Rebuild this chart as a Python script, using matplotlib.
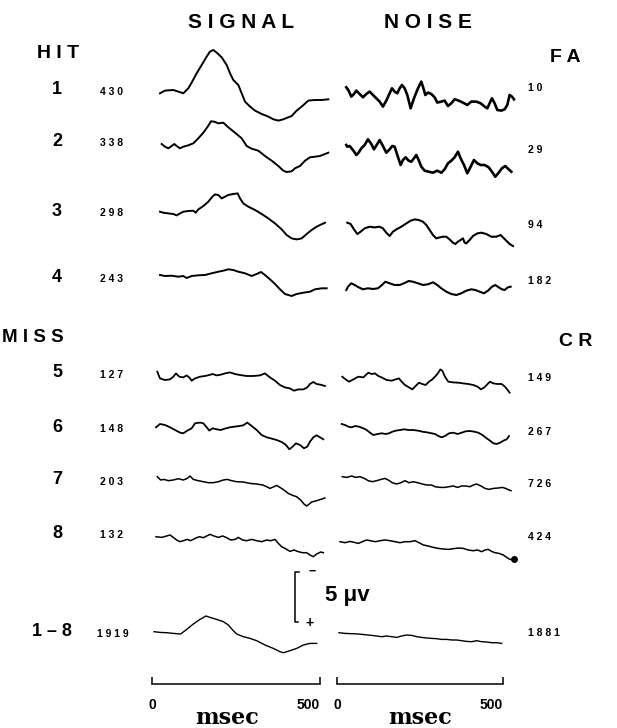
import matplotlib
matplotlib.use("Agg")
import matplotlib.pyplot as plt

# ---------------------------------------------------------------------------
# Averaged waveforms, time in ms after stimulus, amplitude in microvolts
# (negative plotted upward). One pair of arrays per trace.
# ---------------------------------------------------------------------------
# SIGNAL column (HIT 1-4, MISS 5-8, grand average 1-8)
sig_t1 = [0, 15, 40, 55, 70, 85, 95, 110, 125, 140, 150, 160, 170, 185, 200, 210, 220, 235, 245, 255,
          270, 285, 305, 325, 340, 355, 370, 385, 395, 410, 425, 445, 465, 485, 505]
sig_v1 = [0, -0.27, -0.33, -0.17, 0, -0.5, -1.07, -2.0, -2.83, -3.67, -4.17, -4.33, -4.07, -3.6, -2.83,
          -2.0, -1.33, -0.83, 0, 0.83, 1.33, 1.73, 2.07, 2.33, 2.6, 2.73, 2.6, 2.4, 2.27, 1.73, 1.33,
          0.73, 0.67, 0.67, 0.6]
sig_t2 = [5, 15, 25, 35, 43, 50, 60, 70, 85, 100, 115, 130, 143, 153, 163, 175, 190, 205, 225, 245,
          260, 275, 295, 315, 335, 355, 370, 380, 395, 405, 420, 435, 450, 465, 480, 495, 505]
sig_v2 = [0, 0.27, 0.43, 0.2, 0, 0.2, 0.43, 0.27, 0.13, -0.07, -0.57, -1.13, -1.73, -2.27, -2.23,
          -2.07, -2.13, -1.67, -1.13, -0.57, 0.2, 0.47, 0.67, 1.2, 1.67, 2.2, 2.67, 2.8, 2.73, 2.43,
          2.2, 1.67, 1.33, 1.27, 1.2, 1.0, 0.87]
sig_t3 = [0, 10, 25, 40, 50, 60, 70, 85, 100, 107, 115, 130, 145, 157, 165, 175, 185, 195, 205, 220,
          233, 240, 250, 265, 285, 305, 325, 345, 365, 380, 395, 410, 425, 440, 455, 470, 480, 495]
sig_v3 = [0, 0.1, 0.17, 0.23, 0.37, 0.17, 0, -0.07, -0.1, 0.1, -0.23, -0.57, -1.0, -1.5, -1.73,
          -1.67, -1.33, -1.5, -1.67, -1.77, -1.83, -1.33, -0.83, -0.5, -0.17, 0.23, 0.67, 1.17, 1.77,
          2.33, 2.67, 2.77, 2.67, 2.23, 1.83, 1.5, 1.33, 1.1]
sig_t4 = [0, 15, 35, 55, 70, 80, 95, 115, 135, 155, 175, 190, 205, 220, 235, 255, 275, 290, 303, 315,
          330, 345, 360, 375, 395, 410, 430, 450, 465, 485, 500]
sig_v4 = [0, 0.1, 0.07, 0.17, 0.1, 0.3, 0.1, 0.03, 0, -0.17, -0.33, -0.43, -0.57, -0.5, -0.33, -0.17,
          0.1, -0.1, -0.3, 0, 0.43, 0.9, 1.43, 1.9, 2.1, 1.9, 1.77, 1.67, 1.43, 1.33, 1.33]
sig_t5 = [0, 8, 23, 38, 48, 56, 66, 78, 88, 96, 103, 113, 128, 143, 156, 166, 178, 190, 203, 218,
          233, 248, 268, 288, 308, 323, 338, 353, 368, 383, 398, 410, 423, 438, 450, 458, 468, 478,
          490, 503]
sig_v5 = [0, 0.67, 0.83, 0.77, 0.5, 0.17, 0.5, 0.57, 0.37, 0.57, 0.9, 0.67, 0.5, 0.43, 0.33, 0.23,
          0.37, 0.3, 0.17, 0.07, 0.23, 0.33, 0.43, 0.43, 0.37, 0.17, 0.57, 0.9, 1.33, 1.57, 1.67, 1.9,
          1.77, 1.77, 1.57, 1.23, 1.03, 1.23, 1.3, 1.43]
sig_t6 = [0, 12, 27, 42, 57, 72, 82, 94, 107, 117, 132, 142, 152, 160, 170, 182, 194, 207, 222, 237,
          250, 262, 274, 287, 302, 317, 332, 347, 362, 377, 390, 400, 410, 420, 432, 444, 454, 462,
          472, 482, 492, 502]
sig_v6 = [0, -0.33, -0.23, 0, 0.27, 0.53, 0.6, 0.33, 0.1, -0.4, -0.47, -0.4, 0, 0.33, 0.1, 0.2, 0.27,
          0.13, 0, -0.07, -0.13, -0.2, -0.47, -0.13, 0.27, 0.77, 1.0, 1.13, 1.27, 1.47, 1.77, 2.2,
          1.93, 1.6, 1.77, 2.1, 1.93, 1.43, 1.0, 0.8, 1.0, 1.2]
sig_t7 = [0, 10, 20, 33, 48, 63, 78, 90, 98, 108, 123, 138, 153, 168, 183, 198, 210, 223, 238, 258,
          278, 298, 316, 328, 338, 350, 358, 368, 380, 393, 406, 418, 430, 440, 448, 456, 463, 478,
          490, 503]
sig_v7 = [0, 0.33, 0.27, 0.4, 0.33, 0.2, 0.33, 0.17, -0.07, 0.27, 0.4, 0.5, 0.6, 0.6, 0.5, 0.33, 0.27,
          0.4, 0.5, 0.53, 0.67, 0.73, 0.83, 1.0, 1.17, 1.0, 0.87, 1.07, 1.33, 1.67, 1.87, 2.0, 2.33,
          2.73, 2.93, 2.73, 2.53, 2.4, 2.27, 2.13]
sig_t8 = [0, 17, 32, 42, 52, 62, 72, 82, 94, 104, 117, 130, 142, 152, 162, 174, 187, 200, 212, 224,
          237, 247, 260, 272, 287, 302, 317, 332, 344, 357, 367, 377, 387, 402, 414, 427, 440, 452,
          462, 472, 482, 494, 502]
sig_v8 = [0, 0.07, -0.07, -0.17, 0.07, 0.33, 0.5, 0.4, 0.27, 0.4, 0.17, 0, 0.1, -0.07, -0.23, -0.07,
          0.07, -0.07, 0.1, 0.33, 0.27, 0.07, 0.33, 0.4, 0.27, 0.4, 0.5, 0.33, 0.4, 0.27, 0.67, 1.0,
          1.17, 1.47, 1.33, 1.5, 1.6, 1.6, 1.83, 2.0, 1.73, 1.53, 1.6]
sig_t_all = [0, 18, 38, 58, 80, 98, 118, 138, 156, 168, 188, 208, 223, 236, 248, 268, 288, 308, 333,
             358, 378, 388, 408, 428, 448, 468, 488]
sig_v_all = [0, 0.07, 0.1, 0.17, 0.23, -0.23, -0.77, -1.23, -1.57, -1.43, -1.23, -1.0, -0.67, -0.17,
             0.23, 0.5, 0.67, 0.9, 1.33, 1.67, 2.0, 2.1, 1.9, 1.67, 1.33, 1.17, 1.17]

# NOISE column (FA 1-4, CR 5-8, grand average 1-8)
noi_t1 = [0, 7, 15, 23, 30, 40, 50, 60, 70, 80, 90, 100, 110, 120, 130, 137, 145, 153, 160, 167, 175,
          183, 193, 203, 215, 225, 233, 237, 245, 255, 265, 273, 285, 295, 305, 315, 325, 337, 350,
          363, 375, 390, 403, 415, 423, 430, 437, 445, 453, 465, 475, 483, 490, 497, 503]
noi_v1 = [0, 0.33, 0.93, 0.67, 0.33, 0.67, 1.0, 0.67, 0.43, 0.77, 1.1, 1.43, 1.93, 1.33, 0.6, 0.1,
          0.43, 0.6, 0.1, -0.23, 0.1, 0.77, 2.1, 1.1, 0.1, -0.57, 0.27, 0.77, 0.53, 0.67, 1.0, 1.53,
          1.43, 1.33, 1.87, 1.6, 1.2, 1.33, 1.53, 1.77, 1.43, 1.43, 1.6, 1.93, 2.1, 1.6, 1.1, 1.6,
          2.27, 2.33, 2.2, 1.77, 0.77, 0.93, 1.2]
noi_t2 = [0, 3, 10, 20, 30, 37, 45, 55, 65, 75, 83, 93, 100, 110, 120, 130, 138, 145, 153, 163, 170,
          178, 187, 195, 203, 210, 217, 225, 235, 247, 260, 273, 285, 295, 305, 315, 325, 335, 343,
          353, 363, 373, 383, 393, 403, 415, 427, 437, 447, 457, 467, 477, 487, 495]
noi_v2 = [0, 0.17, 0.1, 0.5, 1.0, 0.77, 0.33, 0, -0.57, -0.1, 0.43, -0.1, -0.5, 0.1, 0.77, 0.43, 0.1,
          0.17, 1.0, 2.0, 1.5, 1.23, 1.57, 1.67, 1.33, 1.0, 1.5, 2.17, 2.57, 2.67, 2.77, 2.57, 2.77,
          2.43, 1.83, 1.57, 1.23, 0.67, 1.33, 2.0, 2.83, 2.17, 1.5, 1.83, 2.0, 2.0, 2.23, 2.67, 3.17,
          2.77, 2.33, 2.1, 2.43, 2.67]
noi_t3 = [3, 13, 23, 33, 43, 55, 70, 85, 100, 110, 120, 130, 140, 150, 165, 180, 193, 205, 217, 230,
          240, 250, 260, 270, 280, 290, 300, 310, 320, 327, 335, 343, 350, 355, 360, 370, 380, 393,
          405, 420, 435, 450, 463, 470, 480, 490, 500]
noi_v3 = [0, 0.13, 0.67, 1.13, 0.9, 0.57, 0.4, 0.47, 0.4, 0.57, 1.0, 1.33, 0.9, 0.67, 0.4, 0.07, -0.2,
          -0.33, -0.27, -0.1, 0.23, 0.73, 1.23, 1.57, 1.47, 1.4, 1.4, 1.67, 2.0, 2.13, 1.9, 1.73, 1.57,
          2.0, 2.07, 1.73, 1.33, 1.07, 1.0, 1.13, 1.4, 1.4, 1.23, 1.47, 1.8, 2.13, 2.33]
noi_t4 = [0, 5, 15, 25, 37, 50, 65, 80, 95, 107, 117, 130, 145, 160, 173, 187, 200, 215, 230, 245,
          260, 273, 285, 300, 315, 330, 345, 360, 375, 387, 400, 413, 425, 437, 447, 457, 467, 475,
          485, 493]
noi_v4 = [0, -0.33, -0.67, -0.5, -0.27, -0.07, -0.17, -0.1, -0.17, -0.5, -0.83, -0.67, -0.5, -0.5,
          -0.67, -0.9, -0.83, -0.67, -0.5, -0.57, -0.77, -0.5, -0.17, 0.17, 0.4, 0.5, 0.33, 0.07,
          -0.07, 0, 0.17, 0.33, 0.07, -0.33, -0.5, -0.27, -0.07, 0, -0.27, -0.33]
noi_t5 = [0, 10, 20, 33, 48, 63, 78, 88, 98, 108, 118, 133, 148, 160, 170, 178, 188, 200, 210, 220,
          230, 240, 250, 260, 270, 280, 288, 294, 300, 308, 318, 333, 348, 363, 378, 393, 406, 416,
          426, 436, 443, 453, 466, 478, 488, 496, 502]
noi_v5 = [0, 0.27, 0.5, 0.27, 0, 0.07, -0.4, -0.27, -0.33, -0.07, 0.07, 0.33, 0.4, 0.27, 0.17, 0.5,
          0.83, 1.07, 1.27, 0.93, 0.6, 0.73, 0.83, 0.5, 0.27, -0.07, -0.4, -0.73, -0.6, 0, 0.5, 0.57,
          0.6, 0.67, 0.73, 0.83, 1.0, 1.27, 1.07, 0.73, 0.5, 0.67, 0.73, 0.73, 1.0, 1.33, 1.6]
noi_t6 = [0, 10, 20, 30, 40, 52, 65, 75, 85, 95, 108, 120, 132, 142, 152, 162, 175, 188, 200, 215,
          230, 242, 255, 270, 280, 290, 300, 310, 322, 335, 348, 360, 372, 385, 398, 410, 422, 435,
          445, 455, 465, 475, 485, 495, 502]
noi_v6 = [0, 0.1, 0.27, 0.33, 0.2, 0.27, 0.43, 0.6, 0.87, 1.1, 1.0, 0.93, 1.0, 0.93, 0.77, 0.67, 0.6,
          0.53, 0.6, 0.6, 0.67, 0.77, 0.83, 0.93, 1.0, 1.2, 1.33, 1.2, 0.93, 0.87, 1.0, 0.87, 0.73,
          0.7, 0.77, 0.87, 1.1, 1.43, 1.67, 1.93, 2.0, 1.87, 1.67, 1.53, 1.2]
noi_t7 = [0, 13, 28, 40, 53, 66, 78, 90, 103, 116, 128, 138, 150, 163, 176, 188, 200, 213, 226, 240,
          253, 268, 278, 293, 308, 320, 333, 346, 358, 370, 383, 393, 403, 416, 428, 440, 453, 468,
          480, 490, 500, 506]
noi_v7 = [0, 0.07, -0.07, 0.07, 0, 0.17, 0.4, 0.5, 0.4, 0.27, 0.17, 0.33, 0.6, 0.73, 0.6, 0.4, 0.6,
          0.5, 0.6, 0.73, 0.83, 0.83, 1.0, 1.07, 1.07, 1.0, 0.93, 1.07, 0.93, 0.93, 1.0, 0.83, 0.73,
          0.93, 1.17, 1.27, 1.17, 1.13, 1.07, 1.17, 1.33, 1.4]
noi_t8 = [0, 15, 30, 43, 55, 67, 80, 95, 107, 120, 135, 150, 165, 180, 195, 210, 225, 237, 250, 265,
          280, 295, 310, 325, 340, 355, 370, 385, 400, 413, 425, 435, 445, 455, 465, 477, 490, 500,
          510, 522]
noi_v8 = [0, 0.1, -0.03, 0.07, 0.17, 0, -0.17, -0.07, 0, -0.1, -0.17, -0.1, 0, 0.1, 0, 0, -0.1, 0.1,
          0.33, 0.43, 0.57, 0.67, 0.73, 0.77, 0.7, 0.63, 0.67, 0.83, 0.9, 0.83, 1.0, 0.83, 0.77, 0.97,
          1.1, 1.17, 1.33, 1.57, 1.77, 1.77]
noi_t_all = [0, 18, 38, 58, 78, 98, 113, 128, 143, 158, 173, 188, 203, 218, 233, 248, 263, 278, 293,
             308, 323, 338, 353, 368, 383, 398, 413, 428, 443, 458, 473, 488]
noi_v_all = [0, 0.07, 0.1, 0.13, 0.2, 0.27, 0.33, 0.4, 0.33, 0.4, 0.47, 0.33, 0.23, 0.27, 0.4, 0.47,
             0.53, 0.57, 0.6, 0.67, 0.67, 0.73, 0.73, 0.8, 0.87, 0.9, 0.8, 0.9, 0.93, 1.0, 1.0, 1.07]

# Row labels and trial counts
row_labels = ["1", "2", "3", "4", "5", "6", "7", "8", "1 \u2013 8"]
hit_miss_counts = ["430", "338", "298", "243", "127", "148", "203", "132", "1919"]
fa_cr_counts = ["10", "29", "94", "182", "149", "267", "726", "424", "1881"]

# Scales
time_window = (0, 500)        # ms
calibration_uv = 5            # µV
time_scale_labels = ["0", "500"]

signal_traces = [(sig_t1, sig_v1), (sig_t2, sig_v2), (sig_t3, sig_v3), (sig_t4, sig_v4),
                 (sig_t5, sig_v5), (sig_t6, sig_v6), (sig_t7, sig_v7), (sig_t8, sig_v8),
                 (sig_t_all, sig_v_all)]
noise_traces = [(noi_t1, noi_v1), (noi_t2, noi_v2), (noi_t3, noi_v3), (noi_t4, noi_v4),
                (noi_t5, noi_v5), (noi_t6, noi_v6), (noi_t7, noi_v7), (noi_t8, noi_v8),
                (noi_t_all, noi_v_all)]

# ---------------------------------------------------------------------------
# Layout (figure pixels)
# ---------------------------------------------------------------------------
W, H = 617, 728
PX_PER_MS = 1 / 3.0
PX_PER_UV = 10.0

sig_left = [160, 160, 160, 160, 157.3, 156, 157.3, 156, 154]
sig_base = [93.3, 144, 211.7, 275, 371.7, 427.3, 476.7, 536.7, 631.7]
noi_left = [346.3, 346.3, 346.3, 346.3, 342.3, 341.7, 342.3, 340, 339]
noi_base = [87.3, 145, 222.7, 290, 376.7, 424, 476.7, 541.7, 632.7]
label_y = [90, 141, 211, 277, 373, 427, 480, 533, 632]
right_label_y = [88, 150, 225, 281, 378, 432, 484, 537, 633]
noi_lw = [1.9, 1.9, 1.5, 1.5, 1.3, 1.3, 1.1, 1.1, 1.0]
sig_lw = [1.4, 1.4, 1.4, 1.4, 1.3, 1.3, 1.1, 1.1, 1.0]

fig = plt.figure(figsize=(W / 100, H / 100), dpi=100)
fig.patch.set_facecolor("white")

SANS = ["Liberation Sans", "DejaVu Sans"]


def spaced(s):
    """Letter-spaced caption text, as typeset on the original plate."""
    return " ".join(s)


def px_axes(x, y, w, h):
    """Axes placed by its top-left corner and size in figure pixels."""
    return fig.add_axes([x / W, 1 - (y + h) / H, w / W, h / H])


def fig_text(x, y, s, **kw):
    kw.setdefault("family", SANS)
    kw.setdefault("weight", "bold")
    fig.text(x / W, 1 - y / H, s, **kw)


def trace_axes(left, base):
    half = 55
    ax = px_axes(left, base - half, (time_window[1] - time_window[0]) * PX_PER_MS, 2 * half)
    ax.set_xlim(*time_window)
    ax.set_ylim(half / PX_PER_UV, -half / PX_PER_UV)   # negative up
    ax.axis("off")
    return ax


for i, (t, v) in enumerate(signal_traces):
    ax = trace_axes(sig_left[i], sig_base[i])
    ax.plot(t, v, color="black", lw=sig_lw[i], clip_on=False, solid_joinstyle="round")

for i, (t, v) in enumerate(noise_traces):
    ax = trace_axes(noi_left[i], noi_base[i])
    ax.plot(t, v, color="black", lw=noi_lw[i], clip_on=False, solid_joinstyle="round")
    if i == 7:
        ax.plot(t[-1:], v[-1:], "o", color="black", ms=4, clip_on=False)

# Column headings and condition labels
fig_text(241, 22, spaced("SIGNAL"), fontsize=15, ha="center", va="center")
fig_text(428, 22, spaced("NOISE"), fontsize=15, ha="center", va="center")
fig_text(58, 53, spaced("HIT"), fontsize=14, ha="center", va="center")
fig_text(33, 338, spaced("MISS"), fontsize=13.5, ha="center", va="center")
fig_text(565, 57, spaced("FA"), fontsize=14, ha="center", va="center")
fig_text(576, 341, spaced("CR"), fontsize=14, ha="center", va="center")

for i in range(len(row_labels)):
    x_lab = 57 if i < 8 else 52
    fig_text(x_lab, label_y[i], row_labels[i], fontsize=13, ha="center", va="center")
    fig_text(100 if i < 8 else 97, label_y[i] + 2, spaced(hit_miss_counts[i]), fontsize=7.5,
             ha="left", va="center")
    fig_text(528, right_label_y[i], spaced(fa_cr_counts[i]), fontsize=7.5, ha="left", va="center")

# Voltage calibration bracket
cal = px_axes(285, 561.7, 110, 70)
cal.set_xlim(0, 110)
cal.set_ylim(1, -6)
cal.axis("off")
cal.plot([14, 10, 10, 13], [-calibration_uv, -calibration_uv, 0, 0], color="black", lw=1.1,
         clip_on=False)
cal.text(27, -calibration_uv, "\u2212", fontsize=9, weight="bold", ha="center", va="center",
         family=SANS)
cal.text(25, 0.15, "+", fontsize=10, weight="bold", ha="center", va="center", family=SANS)
cal.text(40, -2.6, f"{calibration_uv} \u03bcv", fontsize=16, weight="bold", ha="left",
         va="center", family=SANS)

# Time scale brackets
for left, width, label_x in [(152, 168, 226.7), (337.3, 166, 420)]:
    tax = px_axes(left, 660, width, 24)
    tax.set_xlim(*time_window)
    tax.set_ylim(0, 1)
    tax.set_facecolor("none")
    for side in ("left", "right", "top"):
        tax.spines[side].set_visible(False)
    tax.spines["bottom"].set_linewidth(1.1)
    tax.set_yticks([])
    tax.set_xticks(list(time_window))
    tax.set_xticklabels(time_scale_labels, fontsize=10, weight="bold", family=SANS)
    tax.tick_params(axis="x", direction="in", length=5, width=1.1, pad=10)
    tax.get_xticklabels()[1].set_horizontalalignment("right")
    fig_text(label_x, 724, "msec", fontsize=16, ha="center", va="baseline",
             family=["DejaVu Serif"])

fig.savefig("out.png", dpi=100, facecolor="white")
